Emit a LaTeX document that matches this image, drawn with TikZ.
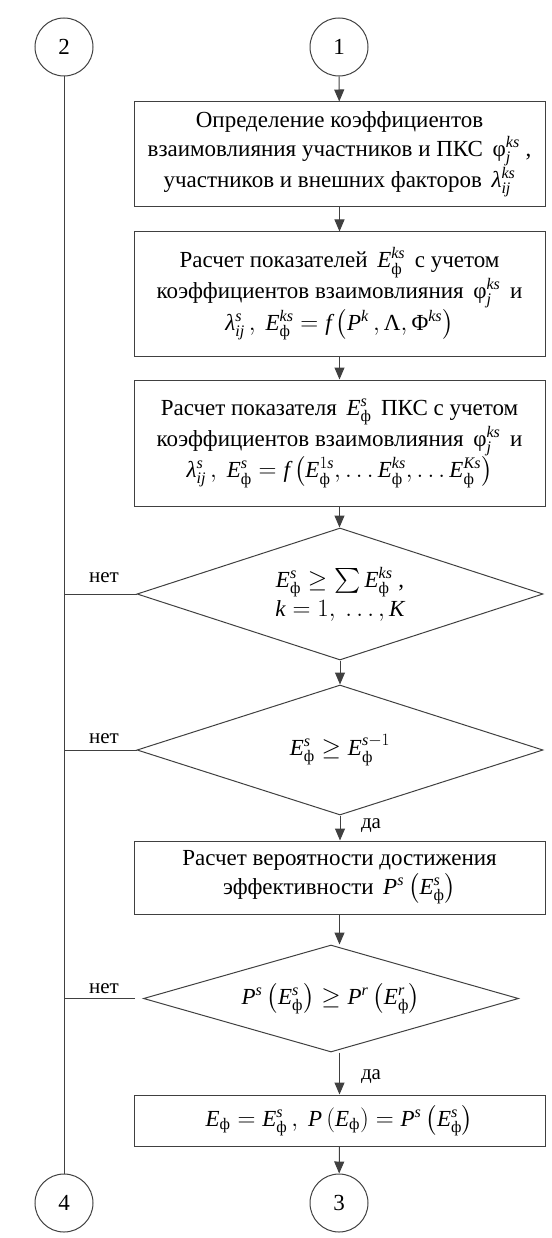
\documentclass[tikz,border=0pt]{standalone}
\usepackage{amsmath}
\usepackage{fontspec}
\setmainfont{Liberation Serif}
\usetikzlibrary{arrows.meta,shapes.geometric}
\newcommand{\mi}[1]{\text{\itshape #1}}
\newcommand{\Ef}{\mi{E}_{\text{ф}}}
\newcommand{\phk}{\text{φ}_{\mi{j}}^{\mi{ks}}}
\tikzset{
  line/.style={draw=black!75, line width=1pt},
  arr/.style={line, -{Triangle[width=10pt,length=12pt]}},
  proc/.style={line, rectangle, minimum width=411, text width=405, align=flush center, inner sep=0},
  conn/.style={line, circle, minimum size=58, inner sep=0},
  dec/.style={line, diamond, aspect=3, inner sep=0, align=flush center},
  lab/.style={inner sep=0, font=\fontsize{21}{25}\selectfont}
}
\begin{document}
\begin{tikzpicture}[x=1pt,y=-1pt,font=\fontsize{23}{29}\selectfont]
\useasboundingbox (0,0) rectangle (551,1238);
% connectors (circles)
\node[conn] (c2) at (64,47) {2};
\node[conn] (c1) at (339,47) {1};
\node[conn] (c4) at (64,1203) {4};
\node[conn] (c3) at (339,1203) {3};
% process boxes
\node[proc, minimum height=105] (b1) at (339.5,154.5)
  {Определение коэффициентов\\ взаимовлияния участников и ПКС\, $\phk$ ,\\ участников и внешних факторов\, $\mi{λ}_{\mi{ij}}^{\mi{ks}}$};
\node[proc, minimum height=124] (b2) at (339.5,294)
  {Расчет показателей\, $\Ef^{\mi{ks}}$\, с учетом\\ коэффициентов взаимовлияния\, $\phk$\, и\\ $\mi{λ}_{\mi{ij}}^{\mi{s}}\,,\ \Ef^{\mi{ks}} = \mi{f}\left(\mi{P}^{\mi{k}}\,, \text{Λ}, \text{Φ}^{\mi{ks}}\right)$};
\node[proc, minimum height=126] (b3) at (339.5,443)
  {Расчет показателя\, $\Ef^{\mi{s}}$\, ПКС с учетом\\ коэффициентов взаимовлияния\, $\phk$\, и\\ $\mi{λ}_{\mi{ij}}^{\mi{s}}\,,\ \Ef^{\mi{s}} = \mi{f}\left(\Ef^{1\mi{s}},\ldots \Ef^{\mi{ks}},\ldots \Ef^{\mi{Ks}}\right)$};
% decisions
\node[dec, minimum width=406, minimum height=132] (d1) at (340,594)
  {$\Ef^{\mi{s}} \geq \sum \Ef^{\mi{ks}}$ ,\\ $\mi{k} = 1,\ \ldots,\mi{K}$};
\node[dec, minimum width=406, minimum height=130] (d2) at (340,750)
  {$\Ef^{\mi{s}} \geq \Ef^{\mi{s}-1}$};
\node[proc, minimum height=73] (b4) at (339.5,877.5)
  {Расчет вероятности достижения\\ эффективности\, $\mi{P}^{\mi{s}}\left(\Ef^{\mi{s}}\right)$};
\node[dec, minimum width=375, minimum height=107] (d3) at (331,998.5)
  {$\mi{P}^{\mi{s}}\left(\Ef^{\mi{s}}\right) \geq \mi{P}^{\mi{r}}\left(\Ef^{\mi{r}}\right)$};
\node[proc, minimum height=51] (b5) at (339.5,1120.5)
  {$\Ef = \Ef^{\mi{s}}\,,\ \mi{P}\left(\Ef\right) = \mi{P}^{\mi{s}}\left(\Ef^{\mi{s}}\right)$};
% labels
\node[lab] (n1) at (104,578) {нет};
\node[lab] (n2) at (104,739) {нет};
\node[lab] (n3) at (104,989) {нет};
\node[lab] (y1) at (371,826) {да};
\node[lab] (y2) at (371,1077) {да};
% arrows
\draw[arr] (c1) -- (b1);
\draw[arr] (b1) -- (b2);
\draw[arr] (b2) -- (b3);
\draw[arr] (b3.south) -- (b3.south |- d1.north);
\draw[arr] (d1.south) -- (d1.south |- d2.north);
\draw[arr] (d2.south) -- (d2.south |- b4.north);
\draw[arr] (b4.south) -- (b4.south |- d3.north);
\draw[arr] (b5.north |- d3.south) -- (b5.north);
\draw[arr] (b5) -- (c3);
% left return line
\draw[line] (c2) -- (c4);
\draw[line] (d1.west) -- (d1.west -| c2);
\draw[line] (d2.west) -- (d2.west -| c2);
\draw[line] ([xshift=-8pt]d3.west) -- (d3.west -| c2);
\end{tikzpicture}
\end{document}
